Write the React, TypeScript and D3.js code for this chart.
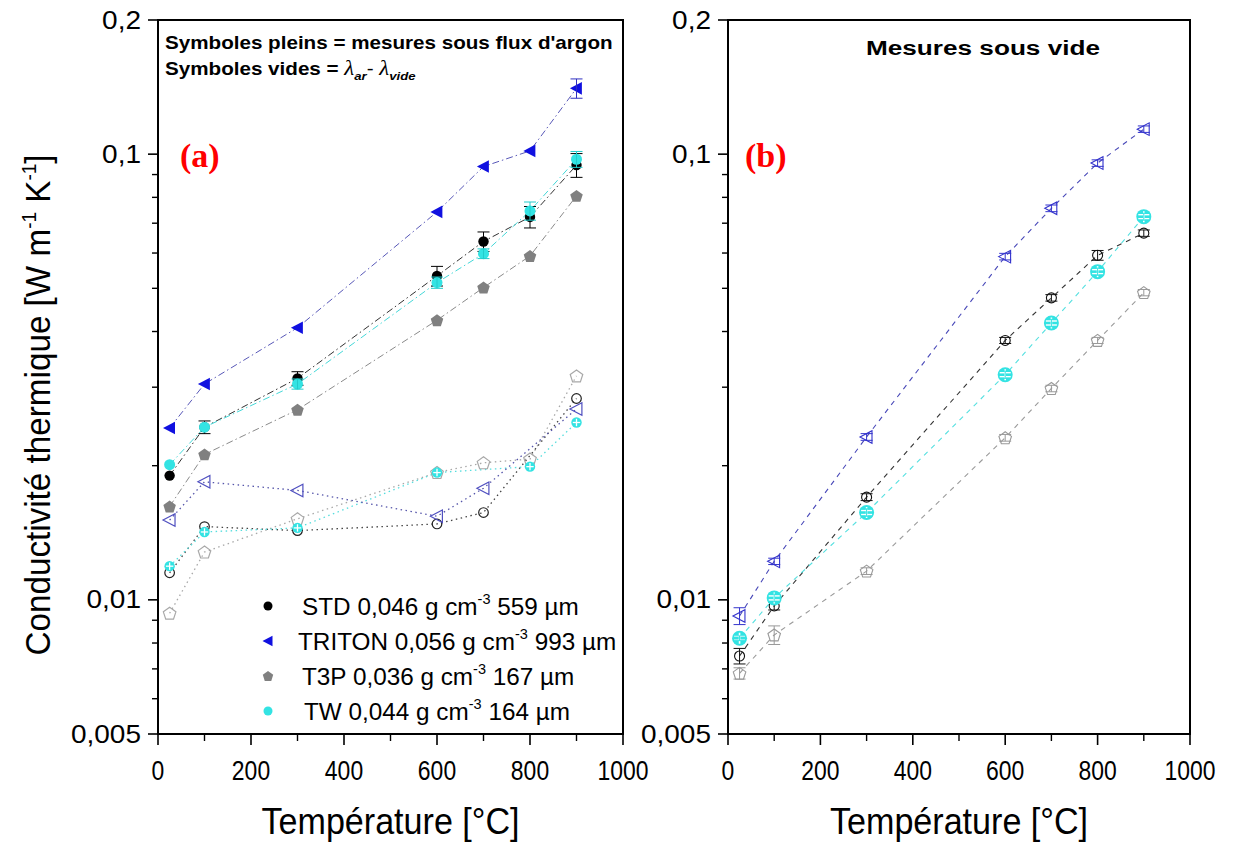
import React from 'react';
import * as d3 from 'd3';

// ---------- data ----------
const temps = [25, 100, 300, 600, 700, 800, 900];

// Panel (a): measurements under argon flow (filled symbols)
const stdAr = [0.0190, 0.0244, 0.0314, 0.0533, 0.0637, 0.0723, 0.0945];
const stdArErr = [0.0004, 0.0008, 0.0011, 0.0027, 0.0032, 0.0040, 0.0058];
const tritonAr = [0.0243, 0.0305, 0.0408, 0.0742, 0.0938, 0.1017, 0.1405];
const tritonArErr = [0.0003, 0.0003, 0.0004, 0.0008, 0.0010, 0.0012, 0.0070];
const t3pAr = [0.0162, 0.0212, 0.0267, 0.0424, 0.0502, 0.0591, 0.0806];
const t3pArErr = [0.0002, 0.0003, 0.0003, 0.0005, 0.0006, 0.0007, 0.0010];
const twAr = [0.0201, 0.0244, 0.0305, 0.0515, 0.0598, 0.0746, 0.0974];
const twArErr = [0.0002, 0.0006, 0.0008, 0.0015, 0.0015, 0.0035, 0.0040];

// Panel (a): lambda_ar - lambda_vide (open symbols)
const stdDiff = [0.0115, 0.0146, 0.0143, 0.0148, 0.0157, null, 0.0283];
const tritonDiff = [0.0151, 0.0184, 0.0176, 0.0154, 0.0178, null, 0.0268];
const t3pDiff = [0.00933, 0.0128, 0.0152, 0.0193, 0.0203, 0.0207, 0.0318];
const twDiff = [0.0119, 0.0142, 0.0145, 0.0193, null, 0.0199, 0.0250];

// Panel (b): measurements under vacuum
const tritonVac = [0.0092, 0.0122, 0.0232, 0.0589, 0.0756, 0.0955, 0.1138];
const tritonVacErr = [0.0004, 0.0002, 0.0004, 0.0010, 0.0013, 0.0016, 0.0019];
const stdVac = [0.00748, 0.00969, 0.0170, 0.0382, 0.0476, 0.0593, 0.0665];
const stdVacErr = [0.0003, 0.0002, 0.0003, 0.0006, 0.0008, 0.0015, 0.0011];
const t3pVac = [0.00684, 0.00834, 0.0116, 0.0231, 0.0298, 0.0382, 0.0489];
const t3pVacErr = [0.0002, 0.0004, 0.0002, 0.0004, 0.0005, 0.0006, 0.0008];
const twVac = [0.0082, 0.0101, 0.0157, 0.0320, 0.0418, 0.0545, 0.0724];
const twVacErr = [0.0001, 0.0002, 0.0003, 0.0006, 0.0008, 0.0010, 0.0013];

// axes
const xTicks = [0, 200, 400, 600, 800, 1000];
const xMinorTicks = [100, 300, 500, 700, 900];
const yMajorTicks = [0.005, 0.01, 0.1, 0.2];
const yMajorLabels = ['0,005', '0,01', '0,1', '0,2'];
const yMinorTicks = [0.006, 0.007, 0.008, 0.009, 0.02, 0.03, 0.04, 0.05, 0.06, 0.07, 0.08, 0.09];

const legendNames = ['STD', 'TRITON', 'T3P', 'TW'];
const legendDensity = ['0,046', '0,056', '0,036', '0,044'];
const legendSize = ['559', '993', '167', '164'];

// ---------- drawing helpers ----------
const FONT = 'Arial, "Liberation Sans", sans-serif';

function Marker({ shape, x, y, s, fill, stroke, sw = 1 }: any) {
  if (shape === 'circle') {
    return <circle cx={x} cy={y} r={s} fill={fill} stroke={stroke} strokeWidth={sw} />;
  }
  if (shape === 'ltri') {
    const pts = [[x - s * 1.1, y], [x + s * 0.9, y - s * 1.05], [x + s * 0.9, y + s * 1.05]];
    return <polygon points={pts.map(p => p.join(',')).join(' ')} fill={fill} stroke={stroke} strokeWidth={sw} />;
  }
  if (shape === 'pent') {
    const pts = d3.range(5).map(k => {
      const a = (-90 + 72 * k) * Math.PI / 180;
      return [x + s * 1.1 * Math.cos(a), y + s * 1.1 * Math.sin(a) + s * 0.1];
    });
    return <polygon points={pts.map(p => p.join(',')).join(' ')} fill={fill} stroke={stroke} strokeWidth={sw} />;
  }
  if (shape === 'twFill') {
    return <circle cx={x} cy={y} r={s} fill={fill} stroke="none" />;
  }
  if (shape === 'twPlus') {
    return (
      <g>
        <circle cx={x} cy={y} r={s} fill={fill} stroke="none" />
        <line x1={x} x2={x} y1={y - s + 1.5} y2={y + s - 1.5} stroke="#fff" strokeWidth={1.3} />
        <line x1={x - s + 1.5} x2={x + s - 1.5} y1={y} y2={y} stroke="#fff" strokeWidth={1.3} />
      </g>
    );
  }
  // twRing
  return (
    <g>
      <circle cx={x} cy={y} r={s} fill={fill} stroke="none" />
      <line x1={x} x2={x} y1={y - s + 2} y2={y + s - 2} stroke="#fff" strokeWidth={1.6} />
      <line x1={x - s + 2} x2={x + s - 2} y1={y - 2} y2={y - 2} stroke="#fff" strokeWidth={1.4} />
      <line x1={x - s + 2} x2={x + s - 2} y1={y + 2} y2={y + 2} stroke="#fff" strokeWidth={1.4} />
    </g>
  );
}

function ErrBar({ x, y1, y2, color, cap = 6, sw = 1 }: any) {
  return (
    <g stroke={color} strokeWidth={sw}>
      <line x1={x} x2={x} y1={y1} y2={y2} />
      <line x1={x - cap} x2={x + cap} y1={y1} y2={y1} />
      <line x1={x - cap} x2={x + cap} y1={y2} y2={y2} />
    </g>
  );
}

export default function App() {
  const yTop = 20, yBot = 734;
  const y = d3.scaleLog().domain([0.005, 0.2]).range([yBot, yTop]);
  const xa = d3.scaleLinear().domain([0, 1000]).range([158, 623]);
  const xb = d3.scaleLinear().domain([0, 1000]).range([728, 1190]);

  const mkLine = (xs: any, vals: (number | null)[]) => {
    const pts: [number, number][] = [];
    vals.forEach((v, i) => { if (v != null) pts.push([xs(temps[i]), y(v)]); });
    return d3.line()(pts) || '';
  };

  const dashDot = '7,3,1.5,3';
  const dotted = '1.5,3.5';
  const dashed = '5,5';

  const filledA = [
    { vals: t3pAr, err: t3pArErr, shape: 'pent', s: 6, fill: '#808080', stroke: 'none', line: '#8a8a8a', ebc: '#808080' },
    { vals: stdAr, err: stdArErr, shape: 'circle', s: 5.2, fill: '#000', stroke: 'none', line: '#333', ebc: '#000' },
    { vals: twAr, err: twArErr, shape: 'twFill', s: 5.5, fill: '#33E3E3', stroke: 'none', line: '#44D8D8', ebc: '#22CCCC' },
    { vals: tritonAr, err: tritonArErr, shape: 'ltri', s: 6, fill: '#1010E0', stroke: 'none', line: '#5858B8', ebc: '#3030C0' },
  ];
  const openA = [
    { vals: t3pDiff, shape: 'pent', s: 6, fill: 'none', stroke: '#A8A8A8', line: '#A8A8A8' },
    { vals: stdDiff, shape: 'circle', s: 4.8, fill: 'none', stroke: '#222', line: '#444' },
    { vals: twDiff, shape: 'twPlus', s: 5.2, fill: '#33E3E3', stroke: 'none', line: '#55DDDD' },
    { vals: tritonDiff, shape: 'ltri', s: 6, fill: 'none', stroke: '#5050C0', line: '#5555AA' },
  ];
  const vacB = [
    { vals: t3pVac, err: t3pVacErr, shape: 'pent', s: 6, fill: 'none', stroke: '#999', line: '#9a9a9a', ebc: '#999' },
    { vals: stdVac, err: stdVacErr, shape: 'circle', s: 5, fill: 'none', stroke: '#111', line: '#333', ebc: '#111' },
    { vals: twVac, err: twVacErr, shape: 'twRing', s: 7.5, fill: '#33E3E3', stroke: 'none', line: '#55E0E0', ebc: '#33E3E3' },
    { vals: tritonVac, err: tritonVacErr, shape: 'ltri', s: 6, fill: 'none', stroke: '#3333CC', line: '#4848B8', ebc: '#3333CC' },
  ];

  const axes = (xs: any, left: number, right: number, key: string) => (
    <g key={key}>
      <rect x={left} y={yTop} width={right - left} height={yBot - yTop} fill="none" stroke="#000" strokeWidth={2} />
      {yMajorTicks.map((t, i) => (
        <g key={'ym' + i}>
          <line x1={left - 10} x2={left} y1={y(t)} y2={y(t)} stroke="#000" strokeWidth={1.6} />
          <text transform={`translate(${left - 17},${y(t) + 8.5}) scale(1.12,1)`} textAnchor="end" fontFamily={FONT} fontSize={25} fill="#000">{yMajorLabels[i]}</text>
        </g>
      ))}
      {yMinorTicks.map((t, i) => (
        <line key={'yn' + i} x1={left - 6} x2={left} y1={y(t)} y2={y(t)} stroke="#000" strokeWidth={1.4} />
      ))}
      {xTicks.map((t, i) => (
        <g key={'xm' + i}>
          <line x1={xs(t)} x2={xs(t)} y1={yBot} y2={yBot + 11} stroke="#000" strokeWidth={1.6} />
          <text transform={`translate(${xs(t)},${yBot + 46}) scale(0.85,1)`} textAnchor="middle" fontFamily={FONT} fontSize={27} fill="#000">{t}</text>
        </g>
      ))}
      {xMinorTicks.map((t, i) => (
        <line key={'xn' + i} x1={xs(t)} x2={xs(t)} y1={yBot} y2={yBot + 7} stroke="#000" strokeWidth={1.4} />
      ))}
      <text x={(left + right) / 2} y={834} textAnchor="middle" fontFamily={FONT} fontSize={36} textLength={258} lengthAdjust="spacingAndGlyphs" fill="#000">Température [°C]</text>
    </g>
  );

  const legendY = [606, 641, 676, 711];
  const legendMarkers = [
    { shape: 'circle', s: 4.5, fill: '#000' },
    { shape: 'ltri', s: 5, fill: '#1010E0' },
    { shape: 'pent', s: 5, fill: '#808080' },
    { shape: 'twFill', s: 4.5, fill: '#33E3E3' },
  ];
  const legendX = [302, 298, 302, 304];

  return (
    <svg width={1234} height={843} style={{ position: 'absolute', left: 0, top: 0, background: '#fff' }}>
      <rect x={0} y={0} width={1234} height={843} fill="#fff" />

      {/* ---------- Panel (a) ---------- */}
      <g>
        {openA.map((s, i) => (
          <path key={'oal' + i} d={mkLine(xa, s.vals)} fill="none" stroke={s.line} strokeWidth={1.3} strokeDasharray={dotted} />
        ))}
        {filledA.map((s, i) => (
          <path key={'fal' + i} d={mkLine(xa, s.vals)} fill="none" stroke={s.line} strokeWidth={1} strokeDasharray={dashDot} />
        ))}
        {openA.map((s, i) => (
          <g key={'oam' + i}>
            {s.vals.map((v, j) => v == null ? null : (
              <Marker key={j} shape={s.shape} x={xa(temps[j])} y={y(v)} s={s.s} fill={s.fill} stroke={s.stroke} sw={1.2} />
            ))}
          </g>
        ))}
        {filledA.map((s, i) => (
          <g key={'fam' + i}>
            {s.vals.map((v, j) => (
              <g key={j}>
                <Marker shape={s.shape} x={xa(temps[j])} y={y(v)} s={s.s} fill={s.fill} stroke={s.stroke} />
                {s.err[j] * 2 / v > 0.05 ? (
                  <ErrBar x={xa(temps[j])} y1={y(v + s.err[j])} y2={y(v - s.err[j])} color={s.ebc} cap={6} />
                ) : null}
              </g>
            ))}
          </g>
        ))}
      </g>

      {/* ---------- Panel (b) ---------- */}
      <g>
        {vacB.map((s, i) => (
          <path key={'bl' + i} d={mkLine(xb, s.vals)} fill="none" stroke={s.line} strokeWidth={1.1} strokeDasharray={dashed} />
        ))}
        {vacB.map((s, i) => (
          <g key={'bm' + i}>
            {s.vals.map((v, j) => (
              <g key={j}>
                <Marker shape={s.shape} x={xb(temps[j])} y={y(v)} s={s.s} fill={s.fill} stroke={s.stroke} sw={1.1} />
                <ErrBar x={xb(temps[j])} y1={y(v + s.err[j])} y2={y(v - s.err[j])} color={s.ebc} cap={6} sw={1} />
              </g>
            ))}
          </g>
        ))}
      </g>

      {axes(xa, 158, 623, 'axa')}
      {axes(xb, 728, 1190, 'axb')}

      {/* y axis title */}
      <text transform="translate(50,405) rotate(-90) scale(0.95,1)" textAnchor="middle" fontFamily={FONT} fontSize={35} fill="#000">
        Conductivité thermique [W m<tspan fontSize={20} dy={-14}>-1</tspan><tspan dy={14}> K</tspan><tspan fontSize={20} dy={-14}>-1</tspan><tspan dy={14}>]</tspan>
      </text>

      {/* annotations panel (a) */}
      <g transform="translate(165,0) scale(1.146,1)" fontFamily={FONT} fontWeight="bold" fontSize={18} fill="#000">
        <text x={0} y={49}>Symboles pleins = mesures sous flux d'argon</text>
        <text x={0} y={75}>Symboles vides = <tspan fontFamily="'Liberation Serif', serif" fontStyle="italic" fontWeight="normal" fontSize={20}>λ</tspan><tspan fontStyle="italic" fontSize={11.5} dy={5}>ar</tspan><tspan dy={-5} fontWeight="normal">- </tspan><tspan fontFamily="'Liberation Serif', serif" fontStyle="italic" fontWeight="normal" fontSize={20}>λ</tspan><tspan fontStyle="italic" fontSize={11.5} dy={5}>vide</tspan></text>
      </g>
      <text x={180} y={167} fontFamily="'Liberation Serif', 'DejaVu Serif', serif" fontWeight="bold" fontSize={34} fill="#FF0000">(a)</text>
      <text x={745} y={167} fontFamily="'Liberation Serif', 'DejaVu Serif', serif" fontWeight="bold" fontSize={34} fill="#FF0000">(b)</text>
      <text x={983} y={55} textAnchor="middle" fontFamily={FONT} fontWeight="bold" fontSize={20} textLength={234} lengthAdjust="spacingAndGlyphs" fill="#000">Mesures sous vide</text>

      {/* legend */}
      {legendNames.map((n, i) => (
        <g key={'lg' + i}>
          <Marker shape={legendMarkers[i].shape} x={268} y={legendY[i]} s={legendMarkers[i].s} fill={legendMarkers[i].fill} stroke="none" />
          <text x={legendX[i]} y={legendY[i] + 9} fontFamily={FONT} fontSize={24.3} fill="#000">
            {n} {legendDensity[i]} g cm<tspan fontSize={14.5} dy={-11}>-3</tspan><tspan dy={11}> {legendSize[i]} µm</tspan>
          </text>
        </g>
      ))}
    </svg>
  );
}
